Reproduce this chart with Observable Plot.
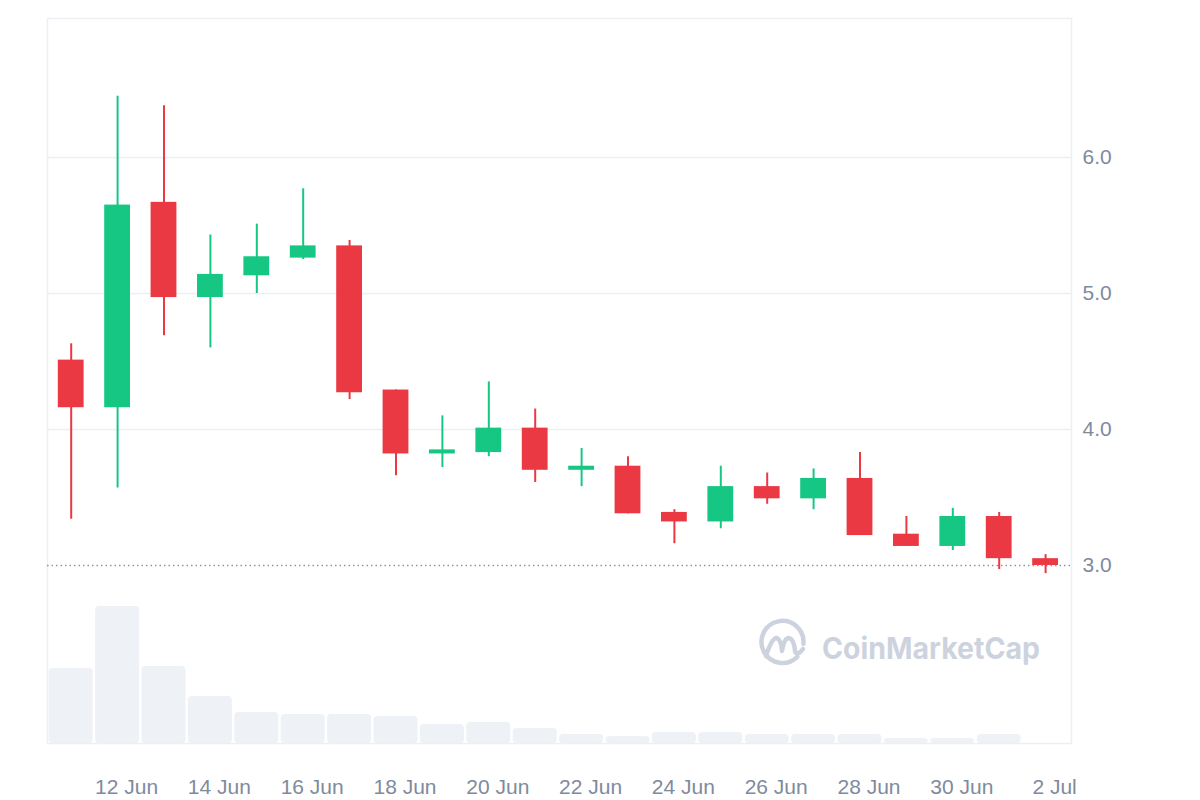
<!DOCTYPE html>
<html>
<head>
<meta charset="utf-8">
<script src="https://cdn.jsdelivr.net/npm/d3@7"></script>
<script src="https://cdn.jsdelivr.net/npm/@observablehq/plot@0.6"></script>
<style>
  html, body { margin: 0; padding: 0; background: #ffffff; }
  #wrap { position: relative; width: 1200px; height: 800px; overflow: hidden; }
  #wrap > svg, #wrap > div { position: absolute; left: 0; top: 0; }
</style>
</head>
<body>
<div id="wrap"></div>
<script>
// ---- data ----
const dates = ["11 Jun","12 Jun","13 Jun","14 Jun","15 Jun","16 Jun","17 Jun","18 Jun","19 Jun","20 Jun","21 Jun",
               "22 Jun","23 Jun","24 Jun","25 Jun","26 Jun","27 Jun","28 Jun","29 Jun","30 Jun","1 Jul","2 Jul"];
const open  = [4.51,4.16,5.67,4.97,5.13,5.26,5.35,4.29,3.82,3.83,4.01,3.70,3.73,3.39,3.32,3.58,3.49,3.64,3.23,3.14,3.36,3.05];
const close = [4.16,5.65,4.97,5.14,5.27,5.35,4.27,3.82,3.85,4.01,3.70,3.73,3.38,3.32,3.58,3.49,3.64,3.22,3.14,3.36,3.05,3.00];
const high  = [4.63,6.45,6.38,5.43,5.51,5.77,5.39,4.29,4.10,4.35,4.15,3.86,3.80,3.41,3.73,3.68,3.71,3.83,3.36,3.42,3.39,3.08];
const low   = [3.34,3.57,4.69,4.60,5.00,5.25,4.22,3.66,3.72,3.80,3.61,3.58,3.38,3.16,3.27,3.45,3.41,3.22,3.14,3.11,2.97,2.94];
// volume (millions, relative), no bar for the last day
const volume = [7.5,13.7,7.7,4.7,3.1,2.9,2.9,2.7,1.9,2.1,1.5,0.9,0.7,1.1,1.1,0.9,0.9,0.9,0.5,0.5,0.9];
const xTickLabels = ["12 Jun","14 Jun","16 Jun","18 Jun","20 Jun","22 Jun","24 Jun","26 Jun","28 Jun","30 Jun","2 Jul"];
const yTicks = [3, 4, 5, 6];
const currentPrice = 3.0;

const GREEN = "#16c784", RED = "#ea3943";
const candles = dates.map((d, i) => ({date: d, open: open[i], close: close[i], high: high[i], low: low[i],
  color: close[i] >= open[i] ? GREEN : RED}));
const vols = volume.map((v, i) => ({date: dates[i], volume: v}));

const W = 1200, H = 800;
const margins = {marginLeft: 47, marginRight: 129, marginTop: 18, marginBottom: 57};
const xScale = {type: "band", domain: dates, range: [47.5, 1068.3], padding: 0, round: false};
const font = {fontFamily: "'Liberation Sans', Arial, sans-serif", fontSize: "21px", background: "transparent", overflow: "visible"};

const wrap = document.getElementById("wrap");

// volume layer
const volPlot = Plot.plot({
  width: W, height: H, ...margins,
  x: {...xScale, axis: null},
  y: {domain: [0, 72.5], axis: null},
  style: font,
  marks: [
    Plot.barY(vols, {x: "date", y: "volume", fill: "#eef1f5", insetLeft: 1.2, insetRight: 1.2, rx: 4})
  ]
});
wrap.appendChild(volPlot);

// price layer
const pricePlot = Plot.plot({
  width: W, height: H, ...margins,
  x: {...xScale, axis: null},
  y: {domain: [1.691, 7.022], axis: null},
  color: {type: "identity"},
  style: font,
  marks: [
    Plot.frame({stroke: "#eceff3", strokeWidth: 1.5}),
    Plot.ruleY([4, 5, 6], {stroke: "#eceff3", strokeWidth: 1.5}),
    Plot.ruleY([currentPrice], {stroke: "#8e95a3", strokeWidth: 1.5, strokeDasharray: "1.5,3"}),
    Plot.ruleX(candles, {x: "date", y1: "low", y2: "high", stroke: "color", strokeWidth: 2}),
    Plot.barY(candles, {x: "date", y1: "open", y2: "close", fill: "color", insetLeft: 10.3, insetRight: 10.3}),
    Plot.text(xTickLabels, {x: d => d, frameAnchor: "bottom", lineAnchor: "middle", dy: 44, dx: 9,
      fill: "#808a9d", fontSize: 21, text: d => d}),
    Plot.text(yTicks, {y: d => d, frameAnchor: "right", lineAnchor: "middle", dx: 11, textAnchor: "start",
      fill: "#808a9d", fontSize: 21, text: d => d3.format(".1f")(d)})
  ]
});
wrap.appendChild(pricePlot);

// watermark
const wm = document.createElement("div");
wm.innerHTML = `<svg width="1200" height="800" xmlns="http://www.w3.org/2000/svg" style="position:absolute;left:0;top:0">
  <g fill="none" stroke="#cdd3de" stroke-width="4.5" stroke-linecap="round" stroke-linejoin="round">
    <path d="M 797.3 656.8 A 21 21 0 1 1 803.4 643.8"/>
    <path d="M 766 656 Q 772 637 777 638 Q 781 640 782 651 Q 784 638 789 638 Q 794 639 795 651 Q 797 657 803 649"/>
  </g>
  <text x="822" y="659" font-family="Inter, 'Noto Sans', sans-serif" font-weight="700" font-size="30"
        fill="#cdd3de" textLength="218" lengthAdjust="spacingAndGlyphs">CoinMarketCap</text>
</svg>`;
wrap.appendChild(wm);
</script>
</body>
</html>
